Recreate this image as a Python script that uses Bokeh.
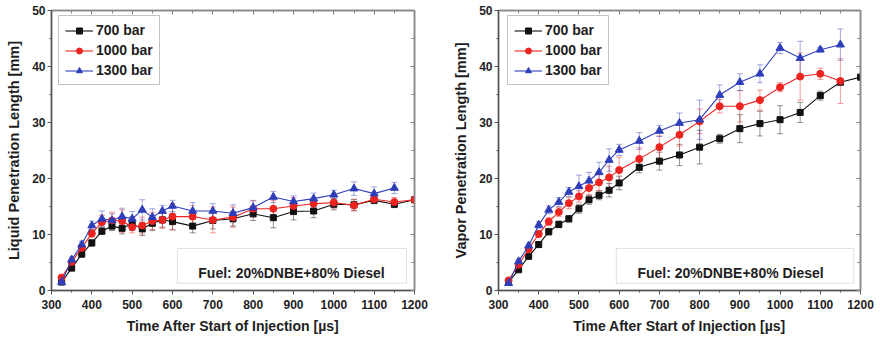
from bokeh.plotting import figure
from bokeh.layouts import row
from bokeh.models import (ColumnDataSource, Whisker, TeeHead, LinearAxis, SingleIntervalTicker,
                          Range1d, BoxAnnotation, Label, Legend)
from bokeh.embed import file_html
from bokeh.resources import INLINE

# ---------------- data ----------------
time_us = [325, 350, 375, 400, 425, 450, 475, 500, 525, 550, 575, 600,
           650, 700, 750, 800, 850, 900, 950, 1000, 1050, 1100, 1150, 1200]

liq_700 = [1.5, 4.0, 6.5, 8.5, 10.6, 11.5, 11.1, 11.9, 11.0, 12.0, 12.6, 12.3,
           11.5, 12.5, 12.8, 13.7, 13.0, 14.1, 14.2, 15.4, 15.3, 16.1, 15.4, 16.2]
liq_700_err = [0.3, 0.5, 0.6, 0.6, 0.6, 0.8, 1.0, 1.2, 1.2, 1.3, 1.3, 1.5,
               1.2, 1.5, 1.3, 1.2, 1.8, 1.5, 1.2, 1.0, 1.0, 0.6, 0.6, 0.4]
liq_1000 = [2.3, 5.1, 7.6, 10.2, 12.2, 12.5, 12.4, 11.3, 11.6, 12.4, 12.6, 13.2,
            13.2, 12.6, 13.1, 14.6, 14.6, 15.1, 15.5, 15.7, 15.2, 16.3, 15.8, 16.2]
liq_1000_err = [0.3, 0.5, 0.6, 0.7, 1.2, 1.5, 2.0, 1.0, 1.5, 1.5, 1.5, 2.3,
                2.0, 2.3, 1.8, 1.5, 1.5, 1.5, 1.0, 1.0, 1.0, 0.5, 0.8, 0.4]
liq_1300 = [1.5, 5.5, 8.2, 11.6, 12.8, 12.5, 13.2, 12.8, 14.4, 13.1, 14.2, 15.1,
            14.2, 14.2, 13.8, 14.8, 16.7, 15.9, 16.4, 17.1, 18.2, 17.3, 18.3]
liq_1300_err = [0.3, 0.5, 0.6, 0.8, 1.4, 1.2, 1.5, 1.3, 1.8, 1.5, 1.0, 1.0,
                1.5, 1.3, 1.5, 1.2, 1.0, 1.0, 1.0, 0.8, 1.2, 1.2, 1.0]

vap_700 = [1.5, 3.7, 6.1, 8.2, 10.5, 11.8, 12.8, 14.6, 16.2, 17.0, 17.9, 19.2,
           22.0, 23.1, 24.2, 25.6, 27.1, 28.9, 29.8, 30.5, 31.8, 34.8, 37.2, 38.1]
vap_700_err = [0.2, 0.3, 0.4, 0.5, 0.6, 0.6, 0.6, 0.8, 0.8, 0.8, 1.2, 1.2,
               1.0, 1.6, 1.9, 3.0, 0.8, 2.5, 2.2, 2.5, 1.8, 0.8, 0.5, 0.3]
vap_1000 = [1.8, 4.6, 7.4, 10.1, 12.3, 14.0, 15.6, 16.8, 18.3, 19.3, 20.2, 21.5,
            23.5, 25.6, 27.8, 30.2, 32.9, 32.9, 34.0, 36.3, 38.2, 38.7, 37.4]
vap_1000_err = [0.2, 0.4, 0.5, 0.6, 0.7, 0.8, 1.0, 1.0, 1.2, 1.5, 2.0, 2.3,
                2.0, 2.0, 2.0, 2.2, 1.2, 2.8, 1.8, 0.8, 4.2, 1.0, 4.0]
vap_1300 = [1.3, 5.2, 8.0, 11.7, 14.4, 15.8, 17.6, 18.6, 19.6, 21.1, 23.3, 25.1,
            26.7, 28.5, 29.9, 30.5, 34.9, 37.2, 38.7, 43.3, 41.5, 43.0, 43.9]
vap_1300_err = [0.2, 0.4, 0.5, 0.6, 0.7, 0.8, 0.8, 2.0, 1.5, 1.8, 2.0, 1.0,
                1.5, 1.0, 1.8, 3.5, 1.8, 1.5, 1.6, 1.0, 3.0, 0.4, 2.8]

series_labels = ["700 bar", "1000 bar", "1300 bar"]
x_label = "Time After Start of Injection [µs]"
y_labels = ["Liquid Penetration Length [mm]", "Vapor Penetration Length [mm]"]
note_text = "Fuel: 20%DNBE+80% Diesel"

FONT = "Liberation Sans"
TXT = "#1e1e1e"
AXC = "#555555"
colors = ["#111111", "#ec2420", "#2e3eb8"]
markers = ["square", "circle", "triangle"]
msizes = [6, 7, 8]


def make_panel(series, errs, ylabel, border_left, border_right, leg_x, note_box, note_x):
    p = figure(width=440, height=338, output_backend="svg", toolbar_location=None,
               x_range=Range1d(300, 1200), y_range=Range1d(0, 50),
               min_border_left=border_left, min_border_right=border_right,
               min_border_top=10, min_border_bottom=48,
               x_axis_label=x_label, y_axis_label=ylabel)
    p.xgrid.visible = False
    p.ygrid.visible = False
    p.outline_line_color = "#888888"
    p.outline_line_width = 1.5
    p.background_fill_color = "white"
    p.border_fill_color = "white"

    xt = SingleIntervalTicker(interval=100, num_minor_ticks=2)
    yt = SingleIntervalTicker(interval=10, num_minor_ticks=2)
    p.xaxis.ticker = xt
    p.yaxis.ticker = yt

    for ax in (p.xaxis[0], p.yaxis[0]):
        ax.major_tick_in = 0
        ax.major_tick_out = 4
        ax.minor_tick_in = 0
        ax.minor_tick_out = 2
        ax.axis_line_width = 1.5
        ax.axis_line_color = AXC
        ax.major_tick_line_color = AXC
        ax.minor_tick_line_color = AXC
        ax.major_label_text_font = FONT
        ax.major_label_text_font_style = "bold"
        ax.major_label_text_font_size = "12px"
        ax.major_label_text_color = TXT
        ax.axis_label_text_font = FONT
        ax.axis_label_text_font_style = "bold"
        ax.axis_label_text_color = TXT
    p.xaxis.axis_label_text_font_size = "14px"
    p.yaxis.axis_label_text_font_size = "14.5px"
    p.xaxis.major_label_standoff = 5
    p.xaxis.axis_label_standoff = 6
    p.yaxis.major_label_standoff = 2
    p.yaxis.axis_label_standoff = 7

    # mirrored tick axes on top and right (ticks pointing inwards, no labels)
    for side, tk in (("above", xt), ("right", yt)):
        ax = LinearAxis(ticker=tk, major_label_text_color=None, major_label_text_font_size="1px",
                        major_label_standoff=0,
                        major_tick_in=4, major_tick_out=0, minor_tick_in=3, minor_tick_out=0,
                        axis_line_width=1.5, axis_line_color="#888888",
                        major_tick_line_color="#777777", minor_tick_line_color="#888888")
        p.add_layout(ax, side)

    items = []
    for i, (yv, ev) in enumerate(zip(series, errs)):
        n = len(yv)
        src = ColumnDataSource(dict(x=time_us[:n], y=yv,
                                    lo=[a - b for a, b in zip(yv, ev)],
                                    hi=[a + b for a, b in zip(yv, ev)]))
        w = Whisker(source=src, base="x", lower="lo", upper="hi",
                    line_color=colors[i], line_alpha=0.45, line_width=1,
                    upper_head=TeeHead(size=6, line_color=colors[i], line_alpha=0.45),
                    lower_head=TeeHead(size=6, line_color=colors[i], line_alpha=0.45))
        p.add_layout(w)
        r1 = p.line("x", "y", source=src, line_color=colors[i], line_width=1.1)
        r2 = p.scatter("x", "y", source=src, marker=markers[i], size=msizes[i],
                       fill_color=colors[i], line_color=colors[i])
        items.append((series_labels[i], [r1, r2]))

    leg = Legend(items=items, location=(leg_x, 205))
    leg.label_text_font = FONT
    leg.label_text_font_style = "bold"
    leg.label_text_font_size = "14px"
    leg.label_text_color = TXT
    leg.border_line_color = "#888888"
    leg.border_line_width = 1
    leg.glyph_width = 28
    leg.glyph_height = 15
    leg.label_height = 15
    leg.spacing = 4
    leg.padding = 6
    leg.margin = 0
    leg.label_standoff = 3
    leg.background_fill_alpha = 1
    p.add_layout(leg)

    box = BoxAnnotation(left=note_box[0], right=note_box[1], bottom=1.3, top=7.5,
                        fill_alpha=0, line_color="#9a9a9a", line_width=1)
    p.add_layout(box)
    lab = Label(x=note_x, y=3.2, text=note_text, text_align="center", text_baseline="middle",
                text_font=FONT, text_font_style="bold", text_font_size="14px", text_color=TXT)
    p.add_layout(lab)
    return p


p1 = make_panel([liq_700, liq_1000, liq_1300], [liq_700_err, liq_1000_err, liq_1300_err],
                y_labels[0], 51, 26, 7, (612, 1180), 895)
p2 = make_panel([vap_700, vap_1000, vap_1300], [vap_700_err, vap_1000_err, vap_1300_err],
                y_labels[1], 58, 20, 9, (593, 1183), 877)

layout = row(p1, p2)
open("out.html", "w").write(file_html(layout, INLINE))
